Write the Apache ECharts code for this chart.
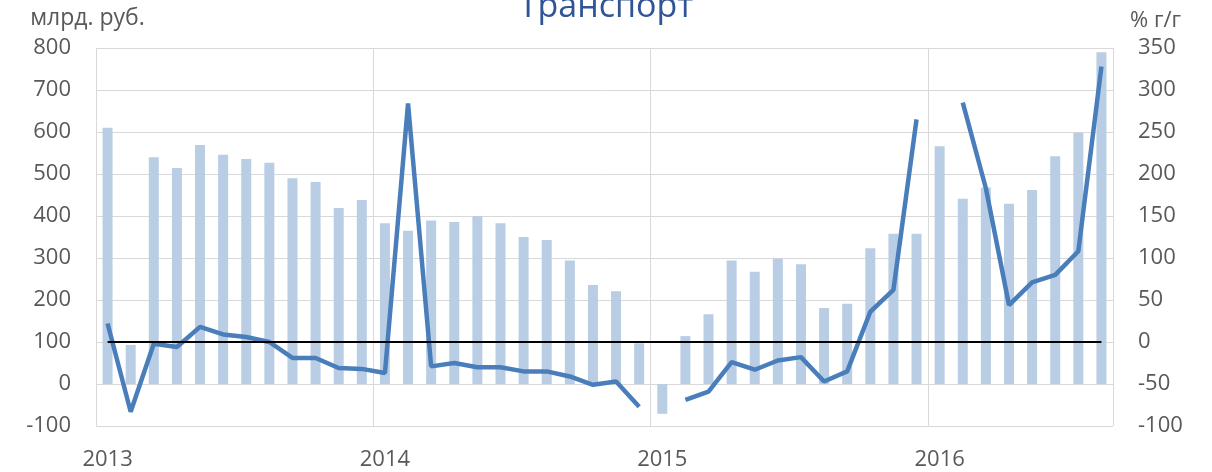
<!DOCTYPE html>
<html lang="ru">
<head>
    <meta charset="UTF-8">
    <title>Транспорт</title>
    <style>
        body, html {
            margin: 0;
            padding: 0;
            background: #fff;
        }
    </style>
</head>
<body>
<div id="main" style="width:1212px; height:472px;"></div>
<script src="https://cdn.jsdelivr.net/npm/echarts@6/dist/echarts.min.js"></script>
<script>
    // месяцы янв 2013 - авг 2016
    var months = [
        '2013-01','2013-02','2013-03','2013-04','2013-05','2013-06','2013-07','2013-08','2013-09','2013-10','2013-11','2013-12',
        '2014-01','2014-02','2014-03','2014-04','2014-05','2014-06','2014-07','2014-08','2014-09','2014-10','2014-11','2014-12',
        '2015-01','2015-02','2015-03','2015-04','2015-05','2015-06','2015-07','2015-08','2015-09','2015-10','2015-11','2015-12',
        '2016-01','2016-02','2016-03','2016-04','2016-05','2016-06','2016-07','2016-08'
    ];

    // млрд. руб. (левая ось)
    var volume = [
        610, 93, 540, 514, 569, 546, 536, 527, 490, 481, 419, 438,
        383, 365, 389, 386, 400, 383, 350, 343, 294, 236, 221, 97,
        -71, 114, 166, 294, 267, 298, 285, 181, 191, 323, 358, 358,
        566, 441, 468, 429, 462, 542, 598, 790
    ];

    // % г/г (правая ось), январь не показан
    var growth = [
        22, -83, -2, -6, 18, 9, 6, 0, -19, -19, -31, -32,
        -37, 284, -29, -25, -30, -30, -35, -35, -41, -51, -47, -77,
        null, -69, -59, -24, -33, -22, -18, -47, -35, 36, 62, 265,
        null, 285, 183, 44, 71, 80, 108, 328
    ];

    var font = 'Open Sans';
    var grey = '#595959';

    var myChart = echarts.init(document.getElementById('main'));
    myChart.setOption({
        backgroundColor: '#fff',
        animation: false,
        title: {
            text: 'Транспорт',
            left: 'center',
            top: -15,
            textStyle: {
                fontFamily: font,
                fontSize: 34,
                fontWeight: 'normal',
                color: '#2F5597'
            }
        },
        grid: {
            left: 96,
            right: 99,
            top: 48,
            bottom: 46
        },
        xAxis: {
            type: 'category',
            data: months,
            axisLine: {show: false},
            axisTick: {show: false},
            axisLabel: {
                interval: 0,
                margin: 23,
                fontFamily: font,
                fontSize: 22,
                color: grey,
                formatter: function (v) {
                    return v.slice(5) === '01' ? v.slice(0, 4) : '';
                }
            },
            splitLine: {
                show: true,
                interval: function (index) {
                    return index % 12 === 0;
                },
                lineStyle: {color: '#d9d9d9', width: 1}
            }
        },
        yAxis: [
            {
                type: 'value',
                min: -100,
                max: 800,
                interval: 100,
                name: 'млрд. руб.',
                nameLocation: 'end',
                nameGap: 18,
                nameTextStyle: {
                    fontFamily: font,
                    fontSize: 23,
                    color: grey,
                    align: 'center',
                    padding: [0, 17, 0, 0]
                },
                axisLine: {show: false},
                axisTick: {show: false},
                axisLabel: {
                    margin: 25,
                    fontFamily: font,
                    fontSize: 22,
                    color: grey
                },
                splitLine: {lineStyle: {color: '#d9d9d9', width: 1}}
            },
            {
                type: 'value',
                min: -100,
                max: 350,
                interval: 50,
                name: '% г/г',
                nameLocation: 'end',
                nameGap: 16,
                nameTextStyle: {
                    fontFamily: font,
                    fontSize: 22,
                    color: grey,
                    align: 'left',
                    padding: [0, 0, 0, 17]
                },
                axisLine: {show: false},
                axisTick: {show: false},
                axisLabel: {
                    margin: 25,
                    fontFamily: font,
                    fontSize: 22,
                    color: grey
                },
                splitLine: {show: false}
            }
        ],
        series: [
            {
                type: 'bar',
                yAxisIndex: 0,
                data: volume,
                barWidth: 10,
                itemStyle: {color: '#B9CDE5'}
            },
            {
                type: 'line',
                yAxisIndex: 1,
                data: growth,
                symbol: 'none',
                connectNulls: false,
                lineStyle: {color: '#4A7EBB', width: 4.5},
                markLine: {
                    silent: true,
                    symbol: 'none',
                    label: {show: false},
                    lineStyle: {color: '#000', width: 2, type: 'solid'},
                    data: [[
                        {coord: [months[0], 0]},
                        {coord: [months[months.length - 1], 0]}
                    ]]
                }
            }
        ]
    });
</script>
</body>
</html>
